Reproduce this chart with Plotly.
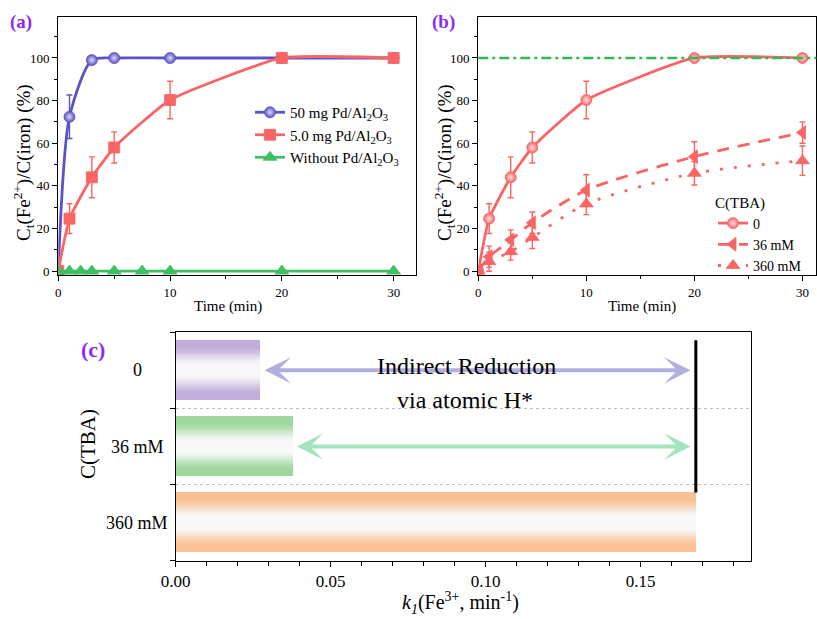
import plotly.graph_objects as go

W, H = 817, 619
def px_x(p): return p / W
def px_y(p): return 1 - p / H

# ---------------- data ----------------
# panel (a)
time_a = [0, 1, 3, 5, 10, 20, 30]
pd50_mg = [0, 72.4, 99, 100, 100, 100, 100]
pd50_mg_err = [0, 10.2, 0, 0, 0, 0, 0]
pd5_mg = [0, 24.6, 44, 58, 80.3, 100, 100]
pd5_mg_err = [0, 7, 9.6, 7.3, 8.8, 0, 0]
time_none = [0, 1, 2, 3, 5, 7.5, 10, 20, 30]
no_pd = [0, 0, 0, 0, 0, 0, 0, 0, 0]

# panel (b)
time_b = [0, 1, 3, 5, 10, 20, 30]
tba_0 = [0, 24.6, 44, 58, 80.3, 100, 100]
tba_0_err = [0, 7, 9.6, 7.3, 8.8, 0, 0]
tba_36 = [0, 6.7, 14.6, 22.7, 38, 53.7, 65]
tba_36_err = [0, 5, 4.7, 5, 7.2, 7, 5]
tba_360 = [0, 4.4, 9.1, 15.8, 31.5, 45.9, 51.8]
tba_360_err = [0, 4.5, 4, 5.2, 5, 5.5, 6.9]
complete_level = 100

# panel (c)
tba_levels = ["0", "36 mM", "360 mM"]
k1_values = [0.0272, 0.0376, 0.1678]

# ---------------- style ----------------
FONT = "Liberation Serif, Times New Roman, serif"
BLUE = "#5a53c7"
RED = "#f96464"
GREEN = "#3dbf62"
PURPLE_LABEL = "#8c2cf2"
bar_edge_colors = [(194, 174, 220), (158, 216, 158), (250, 194, 148)]
BAR_W = 0.79

fig = go.Figure()

def series(x, y, err, name, color, symbol, dash, xa, ya, legend, highlight=None, size=11, width=2.8, smoothing=0.7):
    marker = dict(symbol=symbol, size=size, color=color, line=dict(width=0.8, color=color))
    if highlight:
        marker["gradient"] = dict(type="radial", color=highlight)
    fig.add_trace(go.Scatter(
        x=x, y=y, mode="lines+markers", name=name,
        line=dict(color=color, width=width, shape="spline", smoothing=smoothing, dash=dash),
        marker=marker,
        error_y=dict(type="data", array=err, visible=True, color=color, thickness=1.4, width=3),
        xaxis=xa, yaxis=ya, legend=legend, hoverinfo="skip"))

# panel (a)
series(time_a, pd50_mg, pd50_mg_err, "50 mg Pd/Al<sub>2</sub>O<sub>3</sub>", BLUE, "circle", "solid", "x", "y", "legend", highlight="#dcdaf6")
series(time_a, pd5_mg, pd5_mg_err, "5.0 mg Pd/Al<sub>2</sub>O<sub>3</sub>", RED, "square", "solid", "x", "y", "legend", smoothing=0.45)
series(time_none, no_pd, [0] * len(no_pd), "Without Pd/Al<sub>2</sub>O<sub>3</sub>", GREEN, "triangle-up", "solid", "x", "y", "legend", size=12)

# panel (b)
series(time_b, tba_0, tba_0_err, "0", RED, "circle", "solid", "x2", "y2", "legend2", highlight="#ffe2e2", smoothing=0.45)
series(time_b, tba_36, tba_36_err, "36 mM", RED, "triangle-left", "12px,9px", "x2", "y2", "legend2", size=12)
series(time_b, tba_360, tba_360_err, "360 mM", RED, "triangle-up", "3px,11px", "x2", "y2", "legend2", size=12)

# panel (c): horizontal bars with vertical colour gradient (layered bars)
N = 24
for j in range(N):
    outer = 1 - j / N
    r = outer - 0.5 / N
    p = min(max((r - 0.15) / (0.8 - 0.15), 0), 1)
    p = p * p * (3 - 2 * p)
    cols = []
    for c in bar_edge_colors:
        mix = [round(248 * (1 - p) + ci * p) for ci in c]
        cols.append(f"rgb({mix[0]},{mix[1]},{mix[2]})")
    fig.add_trace(go.Bar(
        x=k1_values, y=list(range(len(tba_levels))), orientation="h",
        width=BAR_W * outer, marker=dict(color=cols, line=dict(width=0)),
        xaxis="x3", yaxis="y3", showlegend=False, hoverinfo="skip"))

# ---------------- axes ----------------
tickfont_ab = dict(family=FONT, size=13, color="black")
common = dict(showline=True, linecolor="black", linewidth=1.3, mirror=True,
              ticks="outside", ticklen=5, tickwidth=1.2, tickcolor="black",
              showgrid=False, zeroline=False, automargin=False)

dom_xa = [px_x(58.3), px_x(416)]
dom_xb = [px_x(478.3), px_x(816.3)]
dom_yab = [px_y(275.3), px_y(17.3)]
dom_xc = [px_x(175.7), px_x(750.7)]
dom_yc = [px_y(560.7), px_y(332.3)]

minor_t = dict(tickmode="array", tickvals=[5, 15, 25], ticks="outside", ticklen=3, tickcolor="black", tickwidth=1)
minor_y = dict(tickmode="array", tickvals=[10, 30, 50, 70, 90, 110], ticks="outside", ticklen=3, tickcolor="black", tickwidth=1)

fig.update_layout(
    width=W, height=H, autosize=False,
    margin=dict(l=0, r=0, t=0, b=0, pad=0, autoexpand=False),
    paper_bgcolor="white", plot_bgcolor="white",
    barmode="overlay", bargap=0,
    font=dict(family=FONT, color="black"),
    xaxis=dict(domain=dom_xa, range=[0, 32], tickvals=[0, 10, 20, 30], minor=minor_t,
               anchor="y", tickfont=tickfont_ab, **common),
    yaxis=dict(domain=dom_yab, range=[-2, 119.1], tickvals=[0, 20, 40, 60, 80, 100], minor=minor_y,
               anchor="x", tickfont=tickfont_ab, **common),
    xaxis2=dict(domain=dom_xb, range=[0, 31.28], tickvals=[0, 10, 20, 30], minor=minor_t,
                anchor="y2", tickfont=tickfont_ab, **common),
    yaxis2=dict(domain=dom_yab, range=[-2, 119.1], tickvals=[0, 20, 40, 60, 80, 100], minor=minor_y,
                anchor="x2", tickfont=tickfont_ab, **common),
    xaxis3=dict(domain=dom_xc, range=[0, 0.1855], tickvals=[0, 0.05, 0.10, 0.15],
                ticktext=["0.00", "0.05", "0.10", "0.15"],
                minor=dict(tickmode="array",
                           tickvals=[0.01, 0.02, 0.03, 0.04, 0.06, 0.07, 0.08, 0.09, 0.11, 0.12, 0.13, 0.14, 0.16, 0.17, 0.18],
                           ticks="outside", ticklen=4, tickcolor="black", tickwidth=1),
                anchor="y3", tickfont=dict(family=FONT, size=17, color="black"), **common),
    yaxis3=dict(domain=dom_yc, range=[2.5, -0.5], tickvals=[0, 1, 2], showticklabels=False,
                showline=True, linecolor="black", linewidth=1.3, mirror=True, zeroline=False,
                ticks="", showgrid=False, automargin=False,
                minor=dict(tickmode="array", tickvals=[-0.5, 0.5, 1.5, 2.5], ticks="outside", ticklen=5,
                           tickcolor="black", tickwidth=1.2, showgrid=True, gridcolor="#bdbdbd",
                           griddash="dot", gridwidth=1),
                anchor="x3"),
    legend=dict(x=px_x(250), y=px_y(96), xanchor="left", yanchor="top", bgcolor="rgba(0,0,0,0)",
                font=dict(family=FONT, size=15, color="black"), tracegroupgap=0, itemwidth=30),
    legend2=dict(x=px_x(713), y=px_y(188), xanchor="left", yanchor="top", bgcolor="rgba(0,0,0,0)",
                 title=dict(text="C(TBA)", font=dict(family=FONT, size=15, color="black")),
                 font=dict(family=FONT, size=14, color="black"), tracegroupgap=0, itemwidth=30),
)

# reference line at complete reduction in (b)
fig.add_shape(type="line", xref="x2 domain", yref="y2", x0=0, x1=1, y0=complete_level, y1=complete_level,
              line=dict(color="#33b850", width=2.5, dash="10px,4px,3px,4px"))

# vertical black line in (c) at k1 of 360 mM
fig.add_shape(type="line", xref="x3", yref="y3", x0=k1_values[2], x1=k1_values[2],
              y0=0 - BAR_W / 2, y1=2 - BAR_W / 2, line=dict(color="black", width=3))

# arrows in (c)
arrow_colors = ["#b3aee0", "#a3e4bd"]
for i, col in enumerate(arrow_colors):
    fig.add_annotation(xref="x3", yref="y3", axref="x3", ayref="y3",
                       x=k1_values[2] - 0.0017, y=i, ax=k1_values[i] + 0.001, ay=i,
                       text="", showarrow=True, arrowside="end+start",
                       arrowhead=3, startarrowhead=3, arrowsize=1.1, startarrowsize=1.1,
                       arrowwidth=4, arrowcolor=col)

# texts
def txt(text, x, y, size, color="black", **kw):
    fig.add_annotation(xref="paper", yref="paper", x=px_x(x), y=px_y(y), text=text, showarrow=False,
                       xanchor="center", yanchor="middle",
                       font=dict(family=FONT, size=size, color=color), **kw)

txt("Indirect Reduction", 466, 366, 24)
txt("via atomic H*", 465, 400, 24)
for i, lab in enumerate(tba_levels):
    fig.add_annotation(xref="paper", yref="y3", x=px_x(137), y=i, text=lab, showarrow=False,
                       xanchor="center", yanchor="middle",
                       font=dict(family=FONT, size=18, color="black"))

txt("<b>(a)</b>", 21, 22, 19, color=PURPLE_LABEL)
txt("<b>(b)</b>", 443, 22, 19, color=PURPLE_LABEL)
txt("<b>(c)</b>", 93, 349, 22, color=PURPLE_LABEL)

txt("Time (min)", 228, 306, 15)
txt("Time (min)", 642, 306, 15)
txt("C<sub>t</sub>(Fe<sup>2+</sup>)/C(iron) (%)", 24, 163, 19, textangle=-90)
txt("C<sub>t</sub>(Fe<sup>2+</sup>)/C(iron) (%)", 445, 163, 19, textangle=-90)
txt("C(TBA)", 88, 444, 21, textangle=-90)
txt("<i>k</i><sub><i>1</i></sub>(Fe<sup>3+</sup>, min<sup>-1</sup>)", 461, 603, 20)

fig.write_html("out.html", config={"displayModeBar": False},
               post_script="document.body.style.margin='0';")
